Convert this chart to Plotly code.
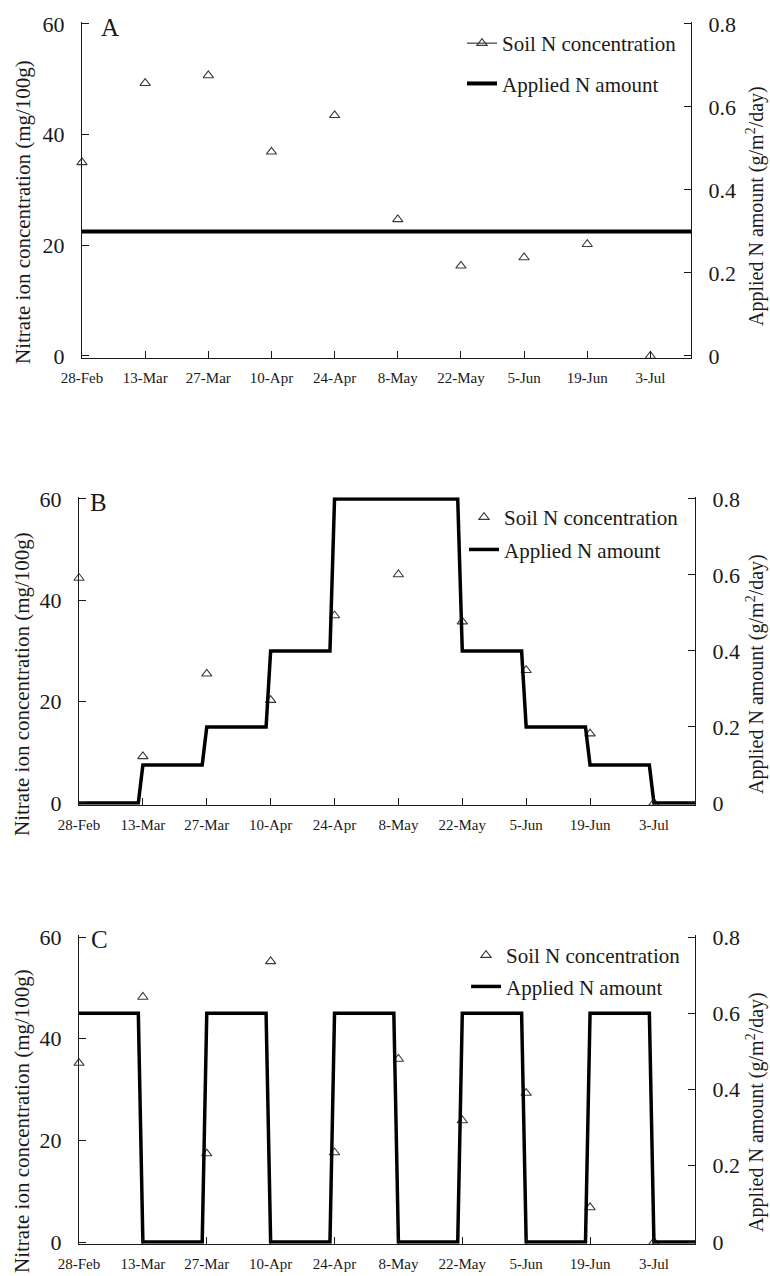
import plotly.graph_objects as go
from datetime import date, timedelta

# ---------------- data ----------------
SAMPLE_DATES = ["2016-02-28", "2016-03-13", "2016-03-27", "2016-04-10", "2016-04-24",
                "2016-05-08", "2016-05-22", "2016-06-05", "2016-06-19", "2016-07-03"]
TICK_LABELS = ["28-Feb", "13-Mar", "27-Mar", "10-Apr", "24-Apr",
               "8-May", "22-May", "5-Jun", "19-Jun", "3-Jul"]
X_START = "2016-02-28"
X_END = "2016-07-12"

SOIL_A = [35.0, 49.3, 50.7, 36.9, 43.5, 24.7, 16.3, 17.8, 20.2, 0.0]
SOIL_B = [44.4, 9.2, 25.5, 20.3, 37.0, 45.1, 35.8, 26.2, 13.7, 0.0]
SOIL_C = [35.2, 48.2, 17.4, 55.2, 17.6, 36.0, 23.9, 29.3, 6.8, 0.0]

APPLIED_A_STARTS = ["2016-02-28"]
APPLIED_A_LEVELS = [0.3]
APPLIED_B_STARTS = ["2016-02-28", "2016-03-13", "2016-03-27", "2016-04-10", "2016-04-24",
                    "2016-05-22", "2016-06-05", "2016-06-19", "2016-07-03"]
APPLIED_B_LEVELS = [0.0, 0.1, 0.2, 0.4, 0.8, 0.4, 0.2, 0.1, 0.0]
APPLIED_C_STARTS = ["2016-02-28", "2016-03-13", "2016-03-27", "2016-04-10", "2016-04-24",
                    "2016-05-08", "2016-05-22", "2016-06-05", "2016-06-19", "2016-07-03"]
APPLIED_C_LEVELS = [0.6, 0.0, 0.6, 0.0, 0.6, 0.0, 0.6, 0.0, 0.6, 0.0]

LEFT_TICKS = [0, 20, 40, 60]
RIGHT_TICKS = [0, 0.2, 0.4, 0.6, 0.8]
RIGHT_TICK_LABELS = ["0", "0.2", "0.4", "0.6", "0.8"]
PANEL_LABELS = ["A", "B", "C"]
LEGEND_NAMES = ["Soil N concentration", "Applied N amount"]
LEFT_TITLE = "Nitrate ion concentration (mg/100g)"
RIGHT_TITLE = "Applied N amount (g/m<sup>2</sup>/day)"

# ---------------- layout constants ----------------
W, H = 770, 1276
FONT = "Liberation Serif, Times New Roman, serif"
INK = "#1a1a1a"
PAD = 0.006

# pixel geometry per panel: left x, right x, y of top tick, y of zero tick
PANELS = [
    dict(xl=82, xr=691, yt=24, yb=356, lw=4.0, letter=(110, 27),
         ltitle=(23, 212), rtitle=(755, 206), leg_top=23, leg_right=682, gap=10),
    dict(xl=79, xr=695, yt=499, yb=803, lw=3.5, letter=(99, 502),
         ltitle=(22, 684), rtitle=(755, 674), leg_top=497, leg_right=684, gap=2),
    dict(xl=79, xr=695, yt=937, yb=1242, lw=3.5, letter=(100, 939),
         ltitle=(22, 1121), rtitle=(755, 1112), leg_top=935, leg_right=686, gap=1),
]
SOILS = [SOIL_A, SOIL_B, SOIL_C]
APPLIED = [(APPLIED_A_STARTS, APPLIED_A_LEVELS), (APPLIED_B_STARTS, APPLIED_B_LEVELS),
           (APPLIED_C_STARTS, APPLIED_C_LEVELS)]


def step_series(starts, levels, end):
    xs, ys = [], []
    for i, (s, lv) in enumerate(zip(starts, levels)):
        d0 = date.fromisoformat(s)
        if i + 1 < len(starts):
            d1 = date.fromisoformat(starts[i + 1]) - timedelta(days=1)
        else:
            d1 = date.fromisoformat(end)
        xs += [d0.isoformat(), d1.isoformat()]
        ys += [lv, lv]
    return xs, ys


fig = go.Figure()
layout = dict(width=W, height=H, margin=dict(l=0, r=0, t=0, b=0, autoexpand=False),
              paper_bgcolor="white", plot_bgcolor="rgba(0,0,0,0)",
              font=dict(family=FONT, color=INK), annotations=[])

MK = dict(symbol="triangle-up-open", size=9, color="#3a3a3a", line=dict(width=1.1, color="#3a3a3a"))

for i, p in enumerate(PANELS):
    k = i + 1
    xname = "x" if k == 1 else f"x{k}"
    yl = "y" if k == 1 else f"y{2 * k - 1}"
    yr = f"y{2 * k}"
    legname = "legend" if k == 1 else f"legend{k}"

    span = p["yb"] - p["yt"]
    top = p["yt"] - PAD * span
    bot = p["yb"] + PAD * span
    ydom = [1 - bot / H, 1 - top / H]
    xdom = [p["xl"] / W, p["xr"] / W]

    axis_common = dict(showline=True, linecolor=INK, linewidth=1.2, showgrid=False,
                       zeroline=False, ticks="inside", ticklen=7, tickcolor=INK, tickwidth=1.2)
    layout["xaxis" if k == 1 else f"xaxis{k}"] = dict(
        axis_common, domain=xdom, anchor=yl, type="date", range=[X_START, X_END],
        tickmode="array", tickvals=SAMPLE_DATES, ticktext=TICK_LABELS,
        tickfont=dict(size=15, family=FONT, color=INK), ticklabelstandoff=6)
    layout["yaxis" if k == 1 else f"yaxis{2 * k - 1}"] = dict(
        axis_common, domain=ydom, anchor=xname, range=[-PAD * 60, 60 * (1 + PAD)],
        tickmode="array", tickvals=LEFT_TICKS,
        tickfont=dict(size=22, family=FONT, color=INK), ticklabelstandoff=12)
    layout[f"yaxis{2 * k}"] = dict(
        axis_common, domain=ydom, anchor=xname, overlaying=yl, side="right",
        range=[-PAD * 0.8, 0.8 * (1 + PAD)], tickmode="array", tickvals=RIGHT_TICKS,
        ticktext=RIGHT_TICK_LABELS, tickfont=dict(size=22, family=FONT, color=INK),
        ticklabelstandoff=12)

    # soil N triangles
    fig.add_trace(go.Scatter(x=SAMPLE_DATES, y=SOILS[i], mode="markers", name=LEGEND_NAMES[0],
                             xaxis=xname, yaxis=yl, cliponaxis=False,
                             showlegend=(k != 1), legend=legname, legendgroup=f"g{k}a",
                             legendrank=1, marker=MK))
    if k == 1:
        # legend key for panel A shows line + marker
        fig.add_trace(go.Scatter(x=[None], y=[None], mode="lines+markers", name=LEGEND_NAMES[0],
                                 xaxis=xname, yaxis=yl, legend=legname, legendgroup="g1a",
                                 legendrank=1, line=dict(color="#3a3a3a", width=1.2), marker=MK))
    # applied N line
    ax, ay = step_series(APPLIED[i][0], APPLIED[i][1], X_END)
    fig.add_trace(go.Scatter(x=ax, y=ay, mode="lines", name=LEGEND_NAMES[1],
                             xaxis=xname, yaxis=yr, legend=legname, legendgroup=f"g{k}b",
                             legendrank=2, line=dict(color="black", width=p["lw"])))

    layout[legname] = dict(x=p["leg_right"] / W, y=1 - p["leg_top"] / H, xanchor="right",
                           yanchor="top", bgcolor="rgba(0,0,0,0)", borderwidth=0,
                           font=dict(size=21, family=FONT, color=INK),
                           traceorder="grouped", tracegroupgap=p["gap"], itemwidth=30)

    layout["annotations"] += [
        dict(text=PANEL_LABELS[i], x=p["letter"][0] / W, y=1 - p["letter"][1] / H,
             xref="paper", yref="paper", showarrow=False, xanchor="center", yanchor="middle",
             font=dict(size=25, family=FONT, color=INK)),
        dict(text=LEFT_TITLE, x=p["ltitle"][0] / W, y=1 - p["ltitle"][1] / H,
             xref="paper", yref="paper", showarrow=False, textangle=-90,
             xanchor="center", yanchor="middle", font=dict(size=21, family=FONT, color=INK)),
        dict(text=RIGHT_TITLE, x=p["rtitle"][0] / W, y=1 - p["rtitle"][1] / H,
             xref="paper", yref="paper", showarrow=False, textangle=-90,
             xanchor="center", yanchor="middle", font=dict(size=20, family=FONT, color=INK)),
    ]

fig.update_layout(**layout)
fig.write_html("out.html", config={"displayModeBar": False},
               post_script="document.body.style.margin='0';document.body.style.overflow='hidden';")
